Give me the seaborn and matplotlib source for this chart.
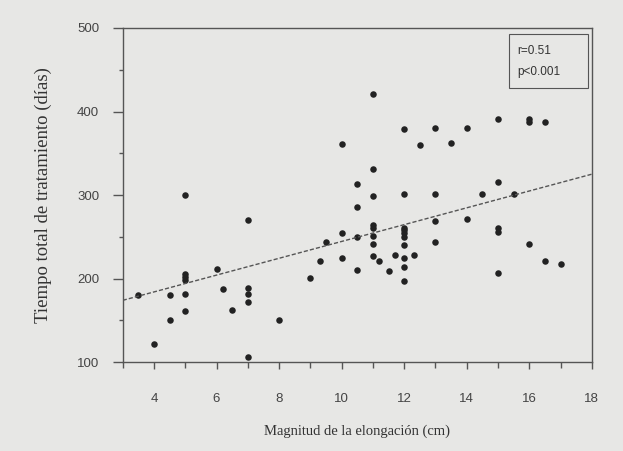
import numpy as np
import pandas as pd
import seaborn as sns
import matplotlib.pyplot as plt
from matplotlib.ticker import MultipleLocator
from matplotlib.patches import Rectangle

# Data
elongacion = [3.5, 4.0, 4.5, 4.5, 5.0, 5.0, 5.0, 5.0, 5.0, 5.0,
              6.0, 6.2, 6.5, 7.0, 7.0, 7.0, 7.0, 7.0, 8.0, 9.0,
              9.3, 9.5, 10.0, 10.0, 10.0, 10.5, 10.5, 10.5, 10.5,
              11.0, 11.0, 11.0, 11.0, 11.0, 11.0, 11.0, 11.0, 11.2, 11.5, 11.7,
              12.0, 12.0, 12.0, 12.0, 12.0, 12.0, 12.0, 12.0, 12.0, 12.0, 12.3, 12.5,
              13.0, 13.0, 13.0, 13.0, 13.5, 14.0, 14.0, 14.5,
              15.0, 15.0, 15.0, 15.0, 15.0, 15.5, 16.0, 16.0, 16.0,
              16.5, 16.5, 17.0]
tiempo = [180, 122, 180, 151, 300, 206, 202, 198, 181, 161,
          211, 188, 162, 270, 189, 182, 172, 106, 151, 201,
          221, 244, 255, 225, 361, 313, 286, 250, 210,
          421, 331, 299, 264, 261, 251, 241, 227, 221, 209, 228,
          379, 301, 261, 258, 254, 250, 240, 225, 214, 197, 228, 360,
          380, 301, 269, 244, 362, 380, 271, 301,
          391, 316, 261, 256, 207, 301, 391, 387, 241,
          387, 221, 217]

# regression line as drawn in the figure
fit_x = [3, 18]
fit_y = [174, 325]

df = pd.DataFrame({'x': elongacion, 'y': tiempo})
fit = pd.DataFrame({'x': fit_x, 'y': fit_y})

sns.set_style("white")
plt.rcParams['font.family'] = ['Liberation Sans', 'DejaVu Sans']

paper = '#e7e7e5'
fig = plt.figure(figsize=(6.23, 4.51), dpi=100, facecolor=paper)
ax = fig.add_axes([0.197, 0.197, 0.753, 0.741])
ax.set_facecolor(paper)

sns.scatterplot(data=df, x='x', y='y', color='#222222', s=22,
                linewidth=0, ax=ax)
sns.lineplot(data=fit, x='x', y='y', color='#555555', linewidth=1,
             dashes=False, ax=ax, linestyle=(0, (3, 1.5)))

ax.set_xlim(3, 18)
ax.set_ylim(100, 500)
ax.xaxis.set_major_locator(MultipleLocator(2))
ax.xaxis.set_minor_locator(MultipleLocator(1))
ax.yaxis.set_major_locator(MultipleLocator(100))
ax.yaxis.set_minor_locator(MultipleLocator(50))
ax.set_xticks([4, 6, 8, 10, 12, 14, 16, 18])

for s in ax.spines.values():
    s.set_color('#555555')
    s.set_linewidth(1)

ax.tick_params(axis='both', which='both', direction='out', color='#555555',
               labelcolor='#444444', labelsize=9.5, bottom=True, left=True,
               width=1)
ax.tick_params(axis='x', which='major', length=5, pad=17)
ax.tick_params(axis='x', which='minor', length=4)
ax.tick_params(axis='y', which='major', length=7, pad=10)
ax.tick_params(axis='y', which='minor', length=3)

ax.set_xlabel('Magnitud de la elongación (cm)', fontsize=10.5,
              family=['Liberation Serif', 'DejaVu Serif'], color='#333333',
              labelpad=14)
ax.set_ylabel('Tiempo total de tratamiento (días)', fontsize=13.5,
              family=['Liberation Serif', 'DejaVu Serif'], color='#333333',
              labelpad=18)

# statistics box
ax.add_patch(Rectangle((0.823, 0.82), 0.168, 0.162, transform=ax.transAxes,
                       facecolor=paper, edgecolor='#555555', linewidth=0.8,
                       zorder=3))
ax.text(0.842, 0.931, 'r=0.51', transform=ax.transAxes, fontsize=8.5,
        color='#333333', va='center', ha='left', zorder=4)
ax.text(0.842, 0.868, 'p<0.001', transform=ax.transAxes, fontsize=8.5,
        color='#333333', va='center', ha='left', zorder=4)

fig.savefig('out.png', dpi=100, facecolor=paper)
